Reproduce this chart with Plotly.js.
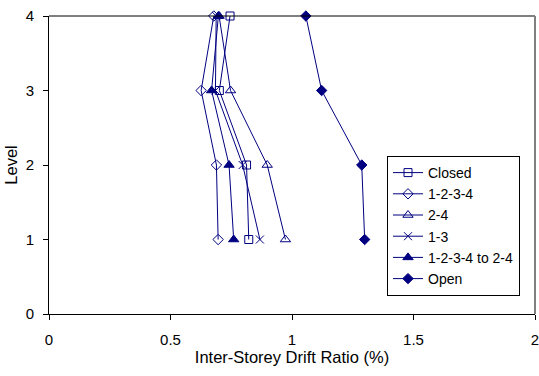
<!DOCTYPE html>
<html>
<head>
<meta charset="utf-8">
<script src="https://cdn.plot.ly/plotly-3.0.1.min.js"></script>
<style>html,body{margin:0;padding:0;background:#fff;}#chart{width:539px;height:376px;}</style>
</head>
<body>
<div id="chart"></div>
<script>
// Data
const levels = [4, 3, 2, 1];
const seriesNames = ["Closed", "1-2-3-4", "2-4", "1-3", "1-2-3-4 to 2-4", "Open"];
const closed      = [0.745, 0.701, 0.813, 0.822];
const s1234       = [0.678, 0.626, 0.689, 0.696];
const s24         = [0.700, 0.747, 0.898, 0.973];
const s13         = [0.688, 0.685, 0.797, 0.868];
const s1234to24   = [0.697, 0.669, 0.741, 0.760];
const open        = [1.057, 1.122, 1.287, 1.299];
const xTicks = [0, 0.5, 1, 1.5, 2];
const yTicks = [0, 1, 2, 3, 4];

const navy = "#000080";
const markerDefs = [
  {symbol: "square-open", size: 8},
  {symbol: "diamond-open", size: 8},
  {symbol: "triangle-up-open", size: 9},
  {symbol: "x-thin-open", size: 8},
  {symbol: "triangle-up", size: 9},
  {symbol: "diamond", size: 8}
];
const seriesData = [closed, s1234, s24, s13, s1234to24, open];

const traces = seriesData.map((xs, i) => ({
  type: "scatter",
  mode: "lines+markers",
  name: seriesNames[i],
  x: xs,
  y: levels,
  line: {color: navy, width: 1},
  marker: {
    symbol: markerDefs[i].symbol,
    size: markerDefs[i].size,
    color: navy,
    line: {color: navy, width: 1}
  },
  cliponaxis: false
}));

const fam = "Liberation Sans, Arial, sans-serif";
const tickFont = {family: fam, size: 15, color: "#000"};
const titleFont = {family: fam, size: 16.5, color: "#000"};

const layout = {
  width: 539,
  height: 376,
  margin: {l: 49, r: 4, t: 16, b: 62},
  paper_bgcolor: "#fff",
  plot_bgcolor: "#fff",
  font: tickFont,
  showlegend: true,
  legend: {
    bgcolor: "#fff",
    bordercolor: "#000",
    borderwidth: 1,
    font: {family: fam, size: 14, color: "#000"},
    tracegroupgap: 0,
    itemwidth: 30,
    xanchor: "left",
    yanchor: "top"
  },
  xaxis: {
    range: [0, 2],
    tickvals: xTicks,
    ticktext: xTicks.map(String),
    ticks: "outside",
    ticklen: 5,
    tickcolor: "#000",
    ticklabelstandoff: 7,
    ticklabeloverflow: "allow",
    showline: true,
    linecolor: "#000",
    linewidth: 1,
    showgrid: false,
    zeroline: false,
    tickfont: tickFont,
    automargin: false,
    title: {text: "Inter-Storey Drift Ratio (%)", font: titleFont, standoff: 1}
  },
  yaxis: {
    range: [0, 4],
    tickvals: yTicks,
    ticks: "outside",
    ticklen: 5,
    tickcolor: "#000",
    ticklabelstandoff: 6,
    showline: true,
    linecolor: "#000",
    linewidth: 1,
    showgrid: false,
    zeroline: false,
    tickfont: tickFont,
    automargin: false,
    title: {text: "Level", font: titleFont, standoff: 3}
  },
  shapes: [
    {type: "line", xref: "paper", yref: "paper", x0: 0, x1: 1, y0: 1, y1: 1, line: {color: "#000", width: 1}},
    {type: "line", xref: "paper", yref: "paper", x0: 1, x1: 1, y0: 0, y1: 1, line: {color: "#808080", width: 2}}
  ]
};

// convert legend pixel position to paper coordinates
const plotW = 539 - 49 - 4, plotH = 376 - 16 - 62;
layout.legend.x = (387 - 49) / plotW;
layout.legend.y = 1 - (156 - 16) / plotH;

Plotly.newPlot("chart", traces, layout, {displayModeBar: false, staticPlot: true});
</script>
</body>
</html>
